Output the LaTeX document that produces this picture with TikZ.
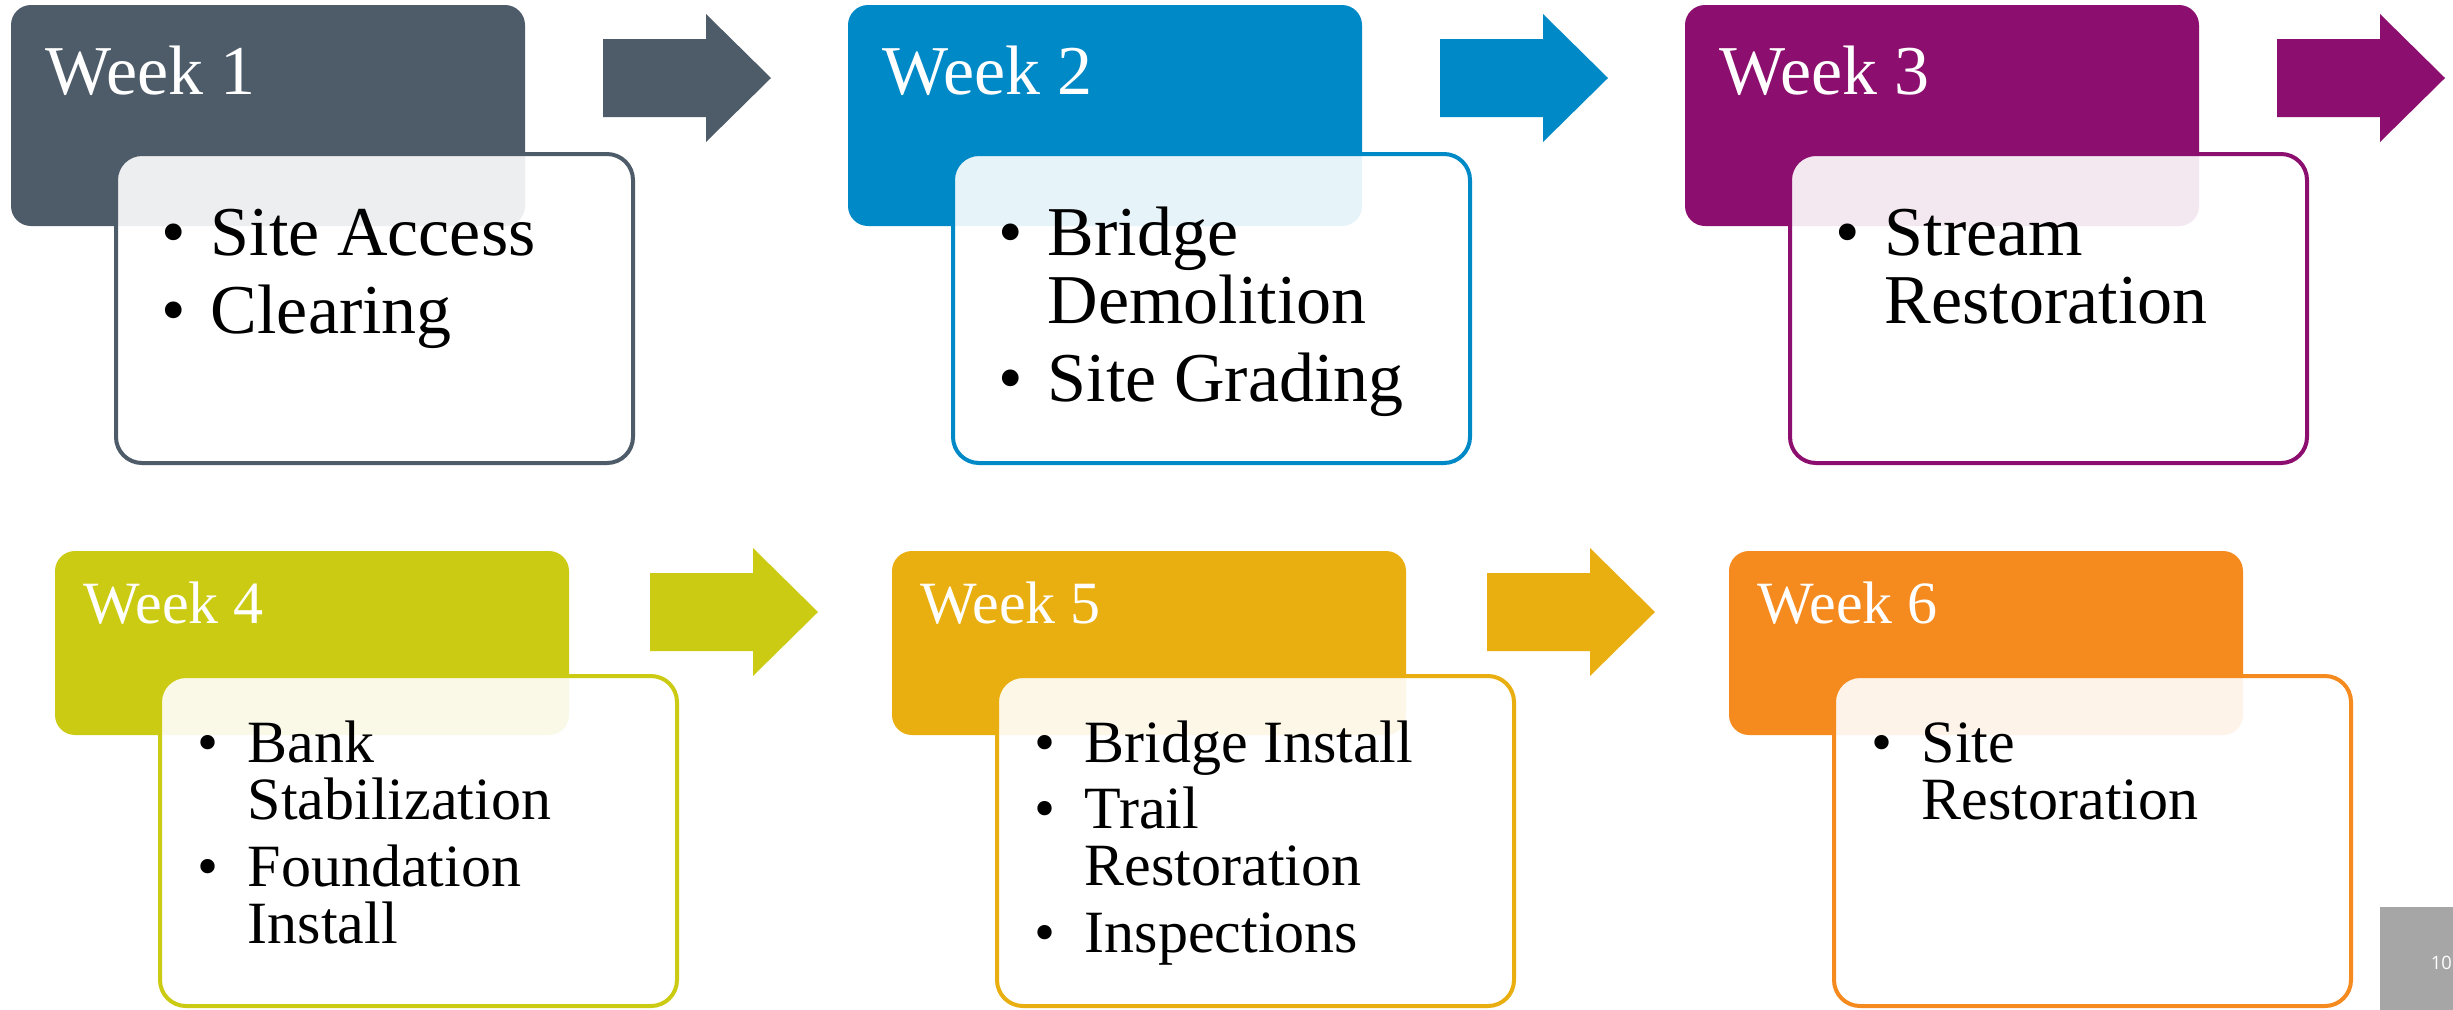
\documentclass[tikz,border=0pt]{standalone}
\usepackage{fontspec}
\setmainfont{Liberation Serif}
\newfontfamily\pagenumfont{Open Sans}
\definecolor{cOne}{RGB}{78,91,105}
\definecolor{cTwo}{RGB}{0,137,199}
\definecolor{cThree}{RGB}{140,14,110}
\definecolor{cFour}{RGB}{204,203,20}
\definecolor{cFive}{RGB}{233,175,16}
\definecolor{cSix}{RGB}{245,138,31}
\definecolor{cGray}{RGB}{166,166,166}
\newcommand\DrawStage[6]{%
  \fill[#6, rounded corners=5pt] (#1,#2) rectangle ({#1+514},#3);
  \path[draw=#6, line width=1pt, fill=white, fill opacity=0.9, rounded corners=6.5pt]
    ({#1+105},#4) rectangle ({#1+622},#5);
}
\newcommand\DrawBlockArrow[3]{%
  \fill[#3] (#1,{#2+25}) -- ({#1+103},{#2+25}) -- ({#1+103},#2) -- ({#1+168},{#2+64})
    -- ({#1+103},{#2+128}) -- ({#1+103},{#2+103}) -- (#1,{#2+103}) -- cycle;
}
\begin{document}
\begin{tikzpicture}[x=0.25pt,y=-0.25pt,
  hdrA/.style={anchor=base west, inner sep=0, text=white, font=\fontsize{17.5pt}{20pt}\selectfont},
  hdrB/.style={anchor=base west, inner sep=0, text=white, font=\fontsize{15pt}{18pt}\selectfont},
  itemA/.style={anchor=base west, inner sep=0, font=\fontsize{17.5pt}{20pt}\selectfont},
  itemB/.style={anchor=base west, inner sep=0, font=\fontsize{15pt}{18pt}\selectfont},
  bulA/.style={anchor=base, inner sep=0, font=\fontsize{17.5pt}{20pt}\selectfont},
  bulB/.style={anchor=base, inner sep=0, font=\fontsize{15pt}{18pt}\selectfont}]
\useasboundingbox (0,0) rectangle (2453,1009);
\clip (0,0) rectangle (2453,1009);
\fill[white] (0,0) rectangle (2453,1009);

% ---------- Row 1 ----------
\DrawStage{11}{5}{226}{154}{463}{cOne}
\DrawBlockArrow{603}{14}{cOne}
\DrawStage{848}{5}{226}{154}{463}{cTwo}
\DrawBlockArrow{1440}{14}{cTwo}
\DrawStage{1685}{5}{226}{154}{463}{cThree}
\DrawBlockArrow{2277}{14}{cThree}

\node[hdrA] (h1) at (45,94) {Week 1};
\node[hdrA] (h2) at (882,94) {Week 2};
\node[hdrA] (h3) at (1719,94) {Week 3};

\node[bulA] (b1a) at (174,255) {•};
\node[itemA] (t1a) at (210,255) {Site Access};
\node[bulA] (b1b) at (174,333) {•};
\node[itemA] (t1b) at (210,333) {Clearing};

\node[bulA] (b2a) at (1011,255) {•};
\node[itemA] (t2a) at (1047,255) {Bridge};
\node[itemA] (t2b) at (1047,323) {Demolition};
\node[bulA] (b2c) at (1011,401) {•};
\node[itemA] (t2c) at (1047,401) {Site Grading};

\node[bulA] (b3a) at (1848,255) {•};
\node[itemA] (t3a) at (1884,255) {Stream};
\node[itemA] (t3b) at (1884,323) {Restoration};

% ---------- Row 2 ----------
\DrawStage{55}{551}{735}{676}{1006}{cFour}
\DrawBlockArrow{650}{548}{cFour}
\DrawStage{892}{551}{735}{676}{1006}{cFive}
\DrawBlockArrow{1487}{548}{cFive}
\DrawStage{1729}{551}{735}{676}{1006}{cSix}

\node[hdrB] (h4) at (83,623) {Week 4};
\node[hdrB] (h5) at (920,623) {Week 5};
\node[hdrB] (h6) at (1757,623) {Week 6};

\node[bulB] (b4a) at (208,762) {•};
\node[itemB] (t4a) at (247,762) {Bank};
\node[itemB] (t4b) at (247,819) {Stabilization};
\node[bulB] (b4c) at (208,886) {•};
\node[itemB] (t4c) at (247,886) {Foundation};
\node[itemB] (t4d) at (247,943) {Install};

\node[bulB] (b5a) at (1045,762) {•};
\node[itemB] (t5a) at (1084,762) {Bridge Install};
\node[bulB] (b5b) at (1045,828) {•};
\node[itemB] (t5b) at (1084,828) {Trail};
\node[itemB] (t5c) at (1084,885) {Restoration};
\node[bulB] (b5d) at (1045,952) {•};
\node[itemB] (t5d) at (1084,952) {Inspections};

\node[bulB] (b6a) at (1882,762) {•};
\node[itemB] (t6a) at (1921,762) {Site};
\node[itemB] (t6b) at (1921,819) {Restoration};

% ---------- page number ----------
\fill[cGray] (2380,907) rectangle (2460,1015);
\node[anchor=base west, inner sep=0, text=white, font=\pagenumfont\fontsize{4.6pt}{6pt}\selectfont] (pg) at (2430,969) {10};
\end{tikzpicture}
\end{document}
